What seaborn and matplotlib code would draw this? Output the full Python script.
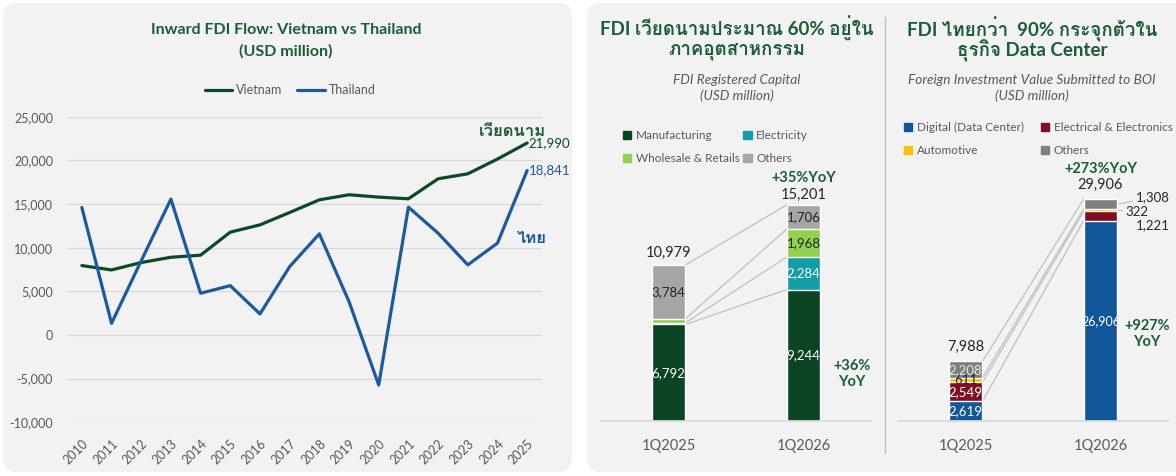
import numpy as np
import matplotlib
matplotlib.use("Agg")
import matplotlib.pyplot as plt
import seaborn as sns
from matplotlib import font_manager
from matplotlib.patches import FancyBboxPatch, Patch
from matplotlib.lines import Line2D
from matplotlib.ticker import FuncFormatter

# ---- data ----
years = list(range(2010, 2026))
vietnam = [7950, 7450, 8300, 8900, 9140, 11780, 12610, 14030, 15480, 16060,
           15790, 15600, 17890, 18460, 20150, 21990]
thailand = [14600, 1340, 8500, 15560, 4780, 5650, 2410, 7830, 11580, 3820,
            -5730, 14640, 11660, 8030, 10520, 18841]

quarters = ["1Q2025", "1Q2026"]

vn_sectors = ["Manufacturing", "Electricity", "Wholesale & Retails", "Others"]
vn_manufacturing = [6792, 9244]
vn_electricity = [118, 2284]
vn_wholesale = [285, 1968]
vn_others = [3784, 1706]
vn_totals = [10979, 15201]

th_sectors = ["Digital (Data Center)", "Electrical & Electronics", "Automotive", "Others"]
th_digital = [2619, 26906]
th_electrical = [2549, 1221]
th_automotive = [611, 322]
th_others = [2208, 1308]
th_totals = [7988, 29906]

# ---- colours ----
GREEN_TXT = "#1b5c37"
VN_GREEN = "#0b4a25"
TH_BLUE = "#1c5a9e"
GREY = "#595959"
LINK = "#bfbfbf"
vn_colors = ["#0a4423", "#139ea5", "#92d050", "#a6a6a6"]
th_colors = ["#12569a", "#7f0d24", "#ffc000", "#7f7f7f"]


def thai_font():
    # first installed family that has Thai glyphs
    from fontTools.ttLib import TTFont
    for f in font_manager.fontManager.ttflist:
        try:
            kw = {"fontNumber": 0} if f.fname.lower().endswith(".ttc") else {}
            cmap = TTFont(f.fname, lazy=True, **kw).getBestCmap()
        except Exception:
            continue
        if cmap and 0x0E27 in cmap:
            return f.name
    return None


sns.set_theme(style="white")
fams = ["Lato"]
tf = thai_font()
if tf:
    fams.append(tf)
fams.append("DejaVu Sans")
plt.rcParams["font.family"] = fams

W, H = 1176, 476
fig = plt.figure(figsize=(W / 100, H / 100), dpi=100)
fig.patch.set_facecolor("white")

# grey rounded panels
for x0, x1 in [(0.03, 5.72), (5.87, 11.95)]:
    fig.add_artist(FancyBboxPatch((x0, 0.04), x1 - x0, 4.69,
                                  boxstyle="round,pad=0,rounding_size=0.14",
                                  transform=fig.dpi_scale_trans,
                                  facecolor="#f2f2f2", edgecolor="none", zorder=-5))
fig.add_artist(Line2D([885 / W] * 2, [1 - 17 / H, 1 - 453 / H], transform=fig.transFigure,
                      color=LINK, lw=1))

# ---- line chart ----
ax1 = fig.add_axes([67 / W, 1 - 422.3 / H, 475 / W, (422.3 - 116.7) / H])
ax1.set_facecolor("none")
sns.lineplot(x=years, y=vietnam, color=VN_GREEN, lw=2.3, ax=ax1)
sns.lineplot(x=years, y=thailand, color=TH_BLUE, lw=2.3, ax=ax1)
ax1.set_xlim(2009.5, 2025.5)
ax1.set_ylim(-10000, 25000)
ax1.set_yticks(range(-10000, 25001, 5000))
ax1.yaxis.set_major_formatter(FuncFormatter(lambda v, p: f"{v:,.0f}"))
ax1.set_xticks(years)
ax1.set_xticklabels([str(y) for y in years], rotation=45, ha="right", rotation_mode="anchor")
ax1.grid(axis="y", color="#d9d9d9", lw=0.9)
sns.despine(ax=ax1, left=True, bottom=True)
ax1.tick_params(axis="both", length=0, labelsize=9, colors=GREY)
ax1.tick_params(axis="y", pad=10)
ax1.tick_params(axis="x", pad=11)

handles = [Line2D([], [], color=VN_GREEN, lw=2.3), Line2D([], [], color=TH_BLUE, lw=2.3)]
fig.legend(handles, ["Vietnam", "Thailand"], loc="center", bbox_to_anchor=(290 / W, 1 - 90 / H),
           ncol=2, frameon=False, fontsize=9, handlelength=2.2, columnspacing=1.2,
           handletextpad=0.3, labelcolor=GREY)

fig.text(286 / W, 1 - 30 / H, "Inward FDI Flow: Vietnam vs Thailand", ha="center", va="center",
         fontsize=11.5, weight="bold", color=GREEN_TXT)
fig.text(286 / W, 1 - 51 / H, "(USD million)", ha="center", va="center",
         fontsize=11.5, weight="bold", color=GREEN_TXT)

ax1.annotate(f"{vietnam[-1]:,}", (years[-1], vietnam[-1]), xytext=(1, 0), textcoords="offset points",
             ha="left", va="center", fontsize=9.5, color=VN_GREEN)
ax1.annotate(f"{thailand[-1]:,}", (years[-1], thailand[-1]), xytext=(1, 0), textcoords="offset points",
             ha="left", va="center", fontsize=9.5, color=TH_BLUE)
fig.text(513 / W, 1 - 131 / H, "เวียดนาม", ha="center", va="center", fontsize=12,
         weight="bold", color=GREEN_TXT)
fig.text(532 / W, 1 - 238 / H, "ไทย", ha="center", va="center", fontsize=12,
         weight="bold", color=TH_BLUE)


# ---- stacked bars ----
def bar_panel(left, layers, colors, ymax):
    ax = fig.add_axes([left / W, 1 - 421 / H, 270 / W, 301 / H])
    ax.set_facecolor("none")
    tops = np.cumsum(np.array(layers, dtype=float), axis=0)
    for i in range(len(layers) - 1, -1, -1):
        sns.barplot(x=quarters, y=tops[i], color=colors[i], width=0.25, saturation=1,
                    errorbar=None, ax=ax, zorder=2)
    for t in tops:
        ax.plot([0.125, 0.875], [t[0], t[1]], color=LINK, lw=0.9, zorder=1)
    ax.set_xlim(-0.5, 1.5)
    ax.set_ylim(0, ymax)
    ax.set_yticks([])
    ax.set_ylabel("")
    sns.despine(ax=ax, left=True)
    ax.spines["bottom"].set_color("#d9d9d9")
    ax.tick_params(axis="x", length=0, labelsize=10.5, colors=GREY, pad=13)
    return ax, tops


def seg_label(ax, i, bottom, value, color, size=9.5):
    ax.text(i, bottom + value / 2, f"{value:,}", ha="center", va="center", fontsize=size, color=color)


def total_label(ax, i, top, text, px, **kw):
    ax.annotate(text, (i, top), xytext=(0, px * 0.72), textcoords="offset points",
                ha="center", va="center", **kw)


# Vietnam
axv, vt = bar_panel(601, [vn_manufacturing, vn_electricity, vn_wholesale, vn_others], vn_colors, 21180)
seg_label(axv, 0, 0, vn_manufacturing[0], "white")
seg_label(axv, 0, vt[2][0], vn_others[0], "#262626")
seg_label(axv, 1, 0, vn_manufacturing[1], "white")
seg_label(axv, 1, vt[0][1], vn_electricity[1], "white")
seg_label(axv, 1, vt[1][1], vn_wholesale[1], "#262626")
seg_label(axv, 1, vt[2][1], vn_others[1], "#262626")
total_label(axv, 0, vt[3][0], f"{vn_totals[0]:,}", 12, fontsize=10.5, color="#262626")
total_label(axv, 1, vt[3][1], f"{vn_totals[1]:,}", 10, fontsize=10.5, color="#262626")
total_label(axv, 1, vt[3][1], "+35%YoY", 27, fontsize=10.5, weight="bold", color=GREEN_TXT)
axv.text(1.36, 3300, "+36%\nYoY", ha="center", va="center", fontsize=10.5, weight="bold",
         color=GREEN_TXT, linespacing=1.2)

vh = [Patch(color=vn_colors[k]) for k in (0, 2, 1, 3)]
fig.legend(vh, [vn_sectors[k] for k in (0, 2, 1, 3)], loc="upper left",
           bbox_to_anchor=(623 / W, 1 - 130 / H), ncol=2, frameon=False, fontsize=8.5,
           handlelength=0.7, handleheight=0.7, handletextpad=0.4, columnspacing=0.3,
           labelspacing=1.05, borderpad=0, borderaxespad=0, labelcolor=GREY)
fig.text(737 / W, 1 - 28 / H, "FDI เวียดนามประมาณ 60% อยู่ใน", ha="center", va="center",
         fontsize=13.5, weight="bold", color=GREEN_TXT)
fig.text(737 / W, 1 - 51 / H, "ภาคอุตสาหกรรม", ha="center", va="center",
         fontsize=13.5, weight="bold", color=GREEN_TXT)
fig.text(737 / W, 1 - 80 / H, "FDI Registered Capital", ha="center", va="center",
         fontsize=9.8, style="italic", color=GREY)
fig.text(737 / W, 1 - 96 / H, "(USD million)", ha="center", va="center",
         fontsize=9.8, style="italic", color=GREY)

# Thailand
axt, tt = bar_panel(898, [th_digital, th_electrical, th_automotive, th_others], th_colors, 40400)
seg_label(axt, 0, 0, th_digital[0], "white")
seg_label(axt, 0, tt[0][0], th_electrical[0], "white")
seg_label(axt, 0, tt[1][0], th_automotive[0], "#262626")
seg_label(axt, 0, tt[2][0], th_others[0], "#e6e6e6")
seg_label(axt, 1, 0, th_digital[1], "white", size=9)
mid = lambda k: tt[k][1] - [th_digital, th_electrical, th_automotive, th_others][k][1] / 2
axt.annotate(f"{th_others[1]:,}", (1.125, mid(3)), xytext=(13.5, 5), textcoords="offset points",
             ha="left", va="center", fontsize=9.5, color="#262626",
             arrowprops=dict(arrowstyle="-", color=LINK, lw=0.8, shrinkA=0, shrinkB=1))
axt.annotate(f"{th_automotive[1]:,}", (1.125, mid(2)), xytext=(6, -1), textcoords="offset points",
             ha="left", va="center", fontsize=9.5, color="#262626",
             arrowprops=dict(arrowstyle="-", color=LINK, lw=0.8, shrinkA=0, shrinkB=1))
axt.annotate(f"{th_electrical[1]:,}", (1.125, mid(1)), xytext=(13.5, -6.5), textcoords="offset points",
             ha="left", va="center", fontsize=9.5, color="#262626")
total_label(axt, 0, tt[3][0], f"{th_totals[0]:,}", 14.5, fontsize=10.5, color="#262626")
total_label(axt, 1, tt[3][1], f"{th_totals[1]:,}", 14, fontsize=10.5, color="#262626")
total_label(axt, 1, tt[3][1], "+273%YoY", 30, fontsize=10.5, weight="bold", color=GREEN_TXT)
axt.text(1.345, 11680, "+927%\nYoY", ha="center", va="center", fontsize=10.5, weight="bold",
         color=GREEN_TXT, linespacing=1.2)

th_h = [Patch(color=th_colors[k]) for k in (0, 2, 1, 3)]
fig.legend(th_h, [th_sectors[k] for k in (0, 2, 1, 3)], loc="upper left",
           bbox_to_anchor=(904 / W, 1 - 122 / H), ncol=2, frameon=False, fontsize=8.5,
           handlelength=0.7, handleheight=0.7, handletextpad=0.4, columnspacing=1.4,
           labelspacing=1.05, borderpad=0, borderaxespad=0, labelcolor=GREY)
fig.text(1032 / W, 1 - 29 / H, "FDI ไทยกว่า  90% กระจุกตัวใน", ha="center", va="center",
         fontsize=13.5, weight="bold", color=GREEN_TXT)
fig.text(1032 / W, 1 - 51 / H, "ธุรกิจ Data Center", ha="center", va="center",
         fontsize=13.5, weight="bold", color=GREEN_TXT)
fig.text(1032 / W, 1 - 80 / H, "Foreign Investment Value Submitted to BOI", ha="center", va="center",
         fontsize=9.8, style="italic", color=GREY)
fig.text(1032 / W, 1 - 96 / H, "(USD million)", ha="center", va="center",
         fontsize=9.8, style="italic", color=GREY)

fig.savefig("out.png", dpi=100)
